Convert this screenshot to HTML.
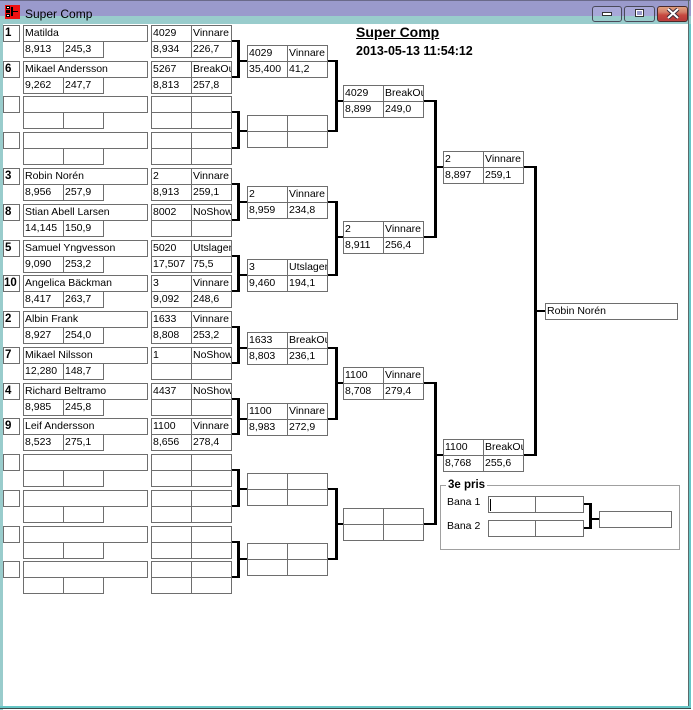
<!DOCTYPE html>
<html><head><meta charset="utf-8"><style>
*{margin:0;padding:0}
html,body{width:693px;height:710px;overflow:hidden;background:#fff}
body{position:relative;font-family:"Liberation Sans",sans-serif}
.a{position:absolute}
.b,.m{position:absolute;width:0;height:0}
.b{left:0}
.c{position:absolute;height:17px;border:1px solid #6e6e6e;box-sizing:border-box;overflow:hidden;white-space:nowrap;font:10.5px/15px "Liberation Sans",sans-serif;padding-left:1px;color:#000;background:#fff}
.sd{left:3px;width:17px;font-weight:bold;font-size:11.5px}
.nm{left:23px;width:125px}
.p1{left:23px;width:41px}
.p2{left:63px;width:41px}
.q1{left:151px;width:41px}
.q2{left:191px;width:41px}
.t{top:0}.u{top:16px}
.x1{left:0;width:41px}.x2{left:40px;width:41px}
.l{position:absolute;background:#000}
</style></head><body>

<!-- window chrome -->
<div class="a" style="left:0;top:0;width:693px;height:16px;background:#9a9acc"></div>
<div class="a" style="left:0;top:0;width:690px;height:1px;background:#6a6a8a"></div>
<div class="a" style="left:0;top:16px;width:693px;height:8px;background:#99cccc"></div>
<div class="a" style="left:0;top:24px;width:3px;height:686px;background:#99cccc"></div>
<div class="a" style="left:688px;top:0;width:1px;height:709px;background:#5a6a6a"></div>
<div class="a" style="left:689px;top:24px;width:2px;height:685px;background:#66c6c6"></div>
<div class="a" style="left:0;top:706px;width:691px;height:2px;background:#66c6c6"></div>
<div class="a" style="left:0;top:708px;width:692px;height:1px;background:#3a4a4a"></div>
<div class="a" style="left:691px;top:0;width:2px;height:710px;background:#fff"></div>

<!-- app icon -->
<div class="a" style="left:5px;top:5px;width:15px;height:14px;background:#ee1111"></div>
<div class="a" style="left:6px;top:6px;width:4px;height:3px;background:#000"></div>
<div class="a" style="left:6px;top:10px;width:4px;height:3px;background:#000"></div>
<div class="a" style="left:6px;top:14px;width:4px;height:3px;background:#000"></div>
<div class="a" style="left:7px;top:7px;width:2px;height:1px;background:#fff"></div>
<div class="a" style="left:7px;top:15px;width:2px;height:1px;background:#fff"></div>
<div class="a" style="left:11px;top:7px;width:2px;height:9px;background:#000"></div>
<div class="a" style="left:13px;top:11px;width:5px;height:1px;background:#000"></div>
<div class="a" style="left:25px;top:7px;font:12px/14px 'Liberation Sans',sans-serif;color:#000;white-space:nowrap">Super Comp</div>

<!-- title buttons -->
<div class="a" style="left:592px;top:6px;width:30px;height:16px;box-sizing:border-box;border:1px solid #4a4a5a;border-radius:3px;background:linear-gradient(#a8a8d8 0,#a8a8d8 9px,#99cccc 9px)"></div>
<div class="a" style="left:602px;top:12px;width:10px;height:4px;box-sizing:border-box;border:1px solid #333;background:#fff"></div>
<div class="a" style="left:624px;top:6px;width:31px;height:16px;box-sizing:border-box;border:1px solid #4a4a5a;border-radius:3px;background:linear-gradient(#a8a8d8 0,#a8a8d8 9px,#99cccc 9px)"></div>
<div class="a" style="left:635px;top:9px;width:9px;height:8px;box-sizing:border-box;border:1px solid #333;background:#fff"></div>
<div class="a" style="left:637px;top:11px;width:5px;height:4px;background:#9a9acc"></div>
<div class="a" style="left:657px;top:6px;width:31px;height:16px;box-sizing:border-box;border:1px solid #4a2a2a;border-radius:3px;background:linear-gradient(#e0a080 0,#d4806a 5px,#c84a40 8px,#b83a3a 13px,#c85a50 15px)"></div>
<svg class="a" style="left:666px;top:8px" width="14" height="11" viewBox="0 0 14 11">
<path d="M2 1 L12 10 M12 1 L2 10" stroke="#3a2a3a" stroke-width="4"/>
<path d="M2 1 L12 10 M12 1 L2 10" stroke="#fff" stroke-width="2"/>
</svg>

<!-- header -->
<div class="a" style="left:356px;top:24px;font:bold 14px/16px 'Liberation Sans',sans-serif;text-decoration:underline;white-space:nowrap">Super Comp</div>
<div class="a" style="left:356px;top:44px;font:bold 12.5px/15px 'Liberation Sans',sans-serif;white-space:nowrap">2013-05-13 11:54:12</div>

<!-- Round 1 blocks -->
<div class="b" style="top:25px"><div class="c sd t">1</div><div class="c nm t">Matilda</div><div class="c p1 u">8,913</div><div class="c p2 u">245,3</div><div class="c q1 t">4029</div><div class="c q2 t">Vinnare</div><div class="c q1 u">8,934</div><div class="c q2 u">226,7</div></div>
<div class="b" style="top:61px"><div class="c sd t">6</div><div class="c nm t">Mikael Andersson</div><div class="c p1 u">9,262</div><div class="c p2 u">247,7</div><div class="c q1 t">5267</div><div class="c q2 t">BreakOut</div><div class="c q1 u">8,813</div><div class="c q2 u">257,8</div></div>
<div class="b" style="top:96px"><div class="c sd t"></div><div class="c nm t"></div><div class="c p1 u"></div><div class="c p2 u"></div><div class="c q1 t"></div><div class="c q2 t"></div><div class="c q1 u"></div><div class="c q2 u"></div></div>
<div class="b" style="top:132px"><div class="c sd t"></div><div class="c nm t"></div><div class="c p1 u"></div><div class="c p2 u"></div><div class="c q1 t"></div><div class="c q2 t"></div><div class="c q1 u"></div><div class="c q2 u"></div></div>
<div class="b" style="top:168px"><div class="c sd t">3</div><div class="c nm t">Robin Norén</div><div class="c p1 u">8,956</div><div class="c p2 u">257,9</div><div class="c q1 t">2</div><div class="c q2 t">Vinnare</div><div class="c q1 u">8,913</div><div class="c q2 u">259,1</div></div>
<div class="b" style="top:204px"><div class="c sd t">8</div><div class="c nm t">Stian Abell Larsen</div><div class="c p1 u">14,145</div><div class="c p2 u">150,9</div><div class="c q1 t">8002</div><div class="c q2 t">NoShow</div><div class="c q1 u"></div><div class="c q2 u"></div></div>
<div class="b" style="top:240px"><div class="c sd t">5</div><div class="c nm t">Samuel Yngvesson</div><div class="c p1 u">9,090</div><div class="c p2 u">253,2</div><div class="c q1 t">5020</div><div class="c q2 t">Utslagen</div><div class="c q1 u">17,507</div><div class="c q2 u">75,5</div></div>
<div class="b" style="top:275px"><div class="c sd t" style="padding-left:0">10</div><div class="c nm t">Angelica Bäckman</div><div class="c p1 u">8,417</div><div class="c p2 u">263,7</div><div class="c q1 t">3</div><div class="c q2 t">Vinnare</div><div class="c q1 u">9,092</div><div class="c q2 u">248,6</div></div>
<div class="b" style="top:311px"><div class="c sd t">2</div><div class="c nm t">Albin Frank</div><div class="c p1 u">8,927</div><div class="c p2 u">254,0</div><div class="c q1 t">1633</div><div class="c q2 t">Vinnare</div><div class="c q1 u">8,808</div><div class="c q2 u">253,2</div></div>
<div class="b" style="top:347px"><div class="c sd t">7</div><div class="c nm t">Mikael Nilsson</div><div class="c p1 u">12,280</div><div class="c p2 u">148,7</div><div class="c q1 t">1</div><div class="c q2 t">NoShow</div><div class="c q1 u"></div><div class="c q2 u"></div></div>
<div class="b" style="top:383px"><div class="c sd t">4</div><div class="c nm t">Richard Beltramo</div><div class="c p1 u">8,985</div><div class="c p2 u">245,8</div><div class="c q1 t">4437</div><div class="c q2 t">NoShow</div><div class="c q1 u"></div><div class="c q2 u"></div></div>
<div class="b" style="top:418px"><div class="c sd t">9</div><div class="c nm t">Leif Andersson</div><div class="c p1 u">8,523</div><div class="c p2 u">275,1</div><div class="c q1 t">1100</div><div class="c q2 t">Vinnare</div><div class="c q1 u">8,656</div><div class="c q2 u">278,4</div></div>
<div class="b" style="top:454px"><div class="c sd t"></div><div class="c nm t"></div><div class="c p1 u"></div><div class="c p2 u"></div><div class="c q1 t"></div><div class="c q2 t"></div><div class="c q1 u"></div><div class="c q2 u"></div></div>
<div class="b" style="top:490px"><div class="c sd t"></div><div class="c nm t"></div><div class="c p1 u"></div><div class="c p2 u"></div><div class="c q1 t"></div><div class="c q2 t"></div><div class="c q1 u"></div><div class="c q2 u"></div></div>
<div class="b" style="top:526px"><div class="c sd t"></div><div class="c nm t"></div><div class="c p1 u"></div><div class="c p2 u"></div><div class="c q1 t"></div><div class="c q2 t"></div><div class="c q1 u"></div><div class="c q2 u"></div></div>
<div class="b" style="top:561px"><div class="c sd t"></div><div class="c nm t"></div><div class="c p1 u"></div><div class="c p2 u"></div><div class="c q1 t"></div><div class="c q2 t"></div><div class="c q1 u"></div><div class="c q2 u"></div></div>

<!-- Round 2 -->
<div class="m" style="left:247px;top:45px"><div class="c x1 t">4029</div><div class="c x2 t">Vinnare</div><div class="c x1 u">35,400</div><div class="c x2 u">41,2</div></div>
<div class="m" style="left:247px;top:115px"><div class="c x1 t"></div><div class="c x2 t"></div><div class="c x1 u"></div><div class="c x2 u"></div></div>
<div class="m" style="left:247px;top:186px"><div class="c x1 t">2</div><div class="c x2 t">Vinnare</div><div class="c x1 u">8,959</div><div class="c x2 u">234,8</div></div>
<div class="m" style="left:247px;top:259px"><div class="c x1 t">3</div><div class="c x2 t">Utslagen</div><div class="c x1 u">9,460</div><div class="c x2 u">194,1</div></div>
<div class="m" style="left:247px;top:332px"><div class="c x1 t">1633</div><div class="c x2 t">BreakOut</div><div class="c x1 u">8,803</div><div class="c x2 u">236,1</div></div>
<div class="m" style="left:247px;top:403px"><div class="c x1 t">1100</div><div class="c x2 t">Vinnare</div><div class="c x1 u">8,983</div><div class="c x2 u">272,9</div></div>
<div class="m" style="left:247px;top:473px"><div class="c x1 t"></div><div class="c x2 t"></div><div class="c x1 u"></div><div class="c x2 u"></div></div>
<div class="m" style="left:247px;top:543px"><div class="c x1 t"></div><div class="c x2 t"></div><div class="c x1 u"></div><div class="c x2 u"></div></div>

<!-- Round 3 -->
<div class="m" style="left:343px;top:85px"><div class="c x1 t">4029</div><div class="c x2 t">BreakOut</div><div class="c x1 u">8,899</div><div class="c x2 u">249,0</div></div>
<div class="m" style="left:343px;top:221px"><div class="c x1 t">2</div><div class="c x2 t">Vinnare</div><div class="c x1 u">8,911</div><div class="c x2 u">256,4</div></div>
<div class="m" style="left:343px;top:367px"><div class="c x1 t">1100</div><div class="c x2 t">Vinnare</div><div class="c x1 u">8,708</div><div class="c x2 u">279,4</div></div>
<div class="m" style="left:343px;top:508px"><div class="c x1 t"></div><div class="c x2 t"></div><div class="c x1 u"></div><div class="c x2 u"></div></div>

<!-- Round 4 -->
<div class="m" style="left:443px;top:151px"><div class="c x1 t">2</div><div class="c x2 t">Vinnare</div><div class="c x1 u">8,897</div><div class="c x2 u">259,1</div></div>
<div class="m" style="left:443px;top:439px"><div class="c x1 t">1100</div><div class="c x2 t">BreakOut</div><div class="c x1 u">8,768</div><div class="c x2 u">255,6</div></div>

<!-- Final -->
<div class="c" style="left:545px;top:303px;width:133px">Robin Norén</div>

<!-- R1 brackets -->
<div class="l" style="left:232px;top:40px;width:5px;height:2px"></div><div class="l" style="left:232px;top:76px;width:5px;height:2px"></div><div class="l" style="left:237px;top:40px;width:3px;height:38px"></div><div class="l" style="left:240px;top:60px;width:7px;height:2px"></div>
<div class="l" style="left:232px;top:111px;width:5px;height:2px"></div><div class="l" style="left:232px;top:147px;width:5px;height:2px"></div><div class="l" style="left:237px;top:111px;width:3px;height:38px"></div><div class="l" style="left:240px;top:130px;width:7px;height:2px"></div>
<div class="l" style="left:232px;top:183px;width:5px;height:2px"></div><div class="l" style="left:232px;top:219px;width:5px;height:2px"></div><div class="l" style="left:237px;top:183px;width:3px;height:38px"></div><div class="l" style="left:240px;top:201px;width:7px;height:2px"></div>
<div class="l" style="left:232px;top:255px;width:5px;height:2px"></div><div class="l" style="left:232px;top:290px;width:5px;height:2px"></div><div class="l" style="left:237px;top:255px;width:3px;height:37px"></div><div class="l" style="left:240px;top:274px;width:7px;height:2px"></div>
<div class="l" style="left:232px;top:326px;width:5px;height:2px"></div><div class="l" style="left:232px;top:362px;width:5px;height:2px"></div><div class="l" style="left:237px;top:326px;width:3px;height:38px"></div><div class="l" style="left:240px;top:347px;width:7px;height:2px"></div>
<div class="l" style="left:232px;top:398px;width:5px;height:2px"></div><div class="l" style="left:232px;top:433px;width:5px;height:2px"></div><div class="l" style="left:237px;top:398px;width:3px;height:37px"></div><div class="l" style="left:240px;top:418px;width:7px;height:2px"></div>
<div class="l" style="left:232px;top:469px;width:5px;height:2px"></div><div class="l" style="left:232px;top:505px;width:5px;height:2px"></div><div class="l" style="left:237px;top:469px;width:3px;height:38px"></div><div class="l" style="left:240px;top:488px;width:7px;height:2px"></div>
<div class="l" style="left:232px;top:541px;width:5px;height:2px"></div><div class="l" style="left:232px;top:576px;width:5px;height:2px"></div><div class="l" style="left:237px;top:541px;width:3px;height:37px"></div><div class="l" style="left:240px;top:558px;width:7px;height:2px"></div>

<!-- R2 brackets -->
<div class="l" style="left:328px;top:60px;width:7px;height:2px"></div><div class="l" style="left:328px;top:130px;width:7px;height:2px"></div><div class="l" style="left:335px;top:60px;width:3px;height:72px"></div><div class="l" style="left:338px;top:100px;width:5px;height:2px"></div>
<div class="l" style="left:328px;top:201px;width:7px;height:2px"></div><div class="l" style="left:328px;top:274px;width:7px;height:2px"></div><div class="l" style="left:335px;top:201px;width:3px;height:75px"></div><div class="l" style="left:338px;top:236px;width:5px;height:2px"></div>
<div class="l" style="left:328px;top:347px;width:7px;height:2px"></div><div class="l" style="left:328px;top:418px;width:7px;height:2px"></div><div class="l" style="left:335px;top:347px;width:3px;height:73px"></div><div class="l" style="left:338px;top:382px;width:5px;height:2px"></div>
<div class="l" style="left:328px;top:488px;width:7px;height:2px"></div><div class="l" style="left:328px;top:558px;width:7px;height:2px"></div><div class="l" style="left:335px;top:488px;width:3px;height:72px"></div><div class="l" style="left:338px;top:523px;width:5px;height:2px"></div>

<!-- R3 brackets -->
<div class="l" style="left:424px;top:100px;width:10px;height:2px"></div><div class="l" style="left:424px;top:236px;width:10px;height:2px"></div><div class="l" style="left:434px;top:100px;width:3px;height:138px"></div><div class="l" style="left:437px;top:166px;width:6px;height:2px"></div>
<div class="l" style="left:424px;top:382px;width:10px;height:2px"></div><div class="l" style="left:424px;top:523px;width:10px;height:2px"></div><div class="l" style="left:434px;top:382px;width:3px;height:143px"></div><div class="l" style="left:437px;top:454px;width:6px;height:2px"></div>

<!-- R4 bracket -->
<div class="l" style="left:524px;top:166px;width:10px;height:2px"></div><div class="l" style="left:524px;top:454px;width:10px;height:2px"></div><div class="l" style="left:534px;top:166px;width:3px;height:290px"></div><div class="l" style="left:537px;top:310px;width:8px;height:2px"></div>

<!-- 3e pris group -->
<div class="a" style="left:440px;top:485px;width:240px;height:65px;box-sizing:border-box;border:1px solid #a0a0a0"></div>
<div class="a" style="left:446px;top:479px;padding:0 2px;background:#fff;font:bold 11.5px/13px 'Liberation Sans',sans-serif;white-space:nowrap">3e pris</div>
<div class="a" style="left:447px;top:495px;font:10.5px/15px 'Liberation Sans',sans-serif;white-space:nowrap">Bana 1</div>
<div class="a" style="left:447px;top:519px;font:10.5px/15px 'Liberation Sans',sans-serif;white-space:nowrap">Bana 2</div>
<div class="c" style="left:488px;top:496px;width:48px"></div>
<div class="c" style="left:535px;top:496px;width:49px"></div>
<div class="c" style="left:488px;top:520px;width:48px"></div>
<div class="c" style="left:535px;top:520px;width:49px"></div>
<div class="l" style="left:490px;top:499px;width:1px;height:12px"></div>
<div class="c" style="left:599px;top:511px;width:73px"></div>
<div class="l" style="left:584px;top:503px;width:5px;height:2px"></div><div class="l" style="left:584px;top:527px;width:5px;height:2px"></div><div class="l" style="left:589px;top:503px;width:3px;height:26px"></div><div class="l" style="left:592px;top:518px;width:7px;height:2px"></div>

</body></html>
